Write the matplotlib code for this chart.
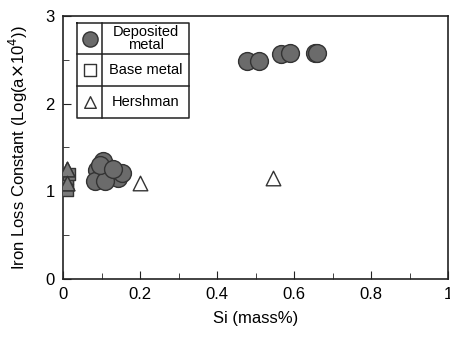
import matplotlib
matplotlib.use("Agg")
import matplotlib.pyplot as plt
from matplotlib.ticker import MultipleLocator

plt.rcParams['font.family'] = ['Liberation Sans', 'DejaVu Sans']

# Deposited metal (filled circles)
dep_x = [0.477, 0.51, 0.567, 0.59, 0.653, 0.66,
         0.104, 0.088, 0.083, 0.122, 0.142, 0.153, 0.109, 0.095, 0.13]
dep_y = [2.48, 2.48, 2.57, 2.58, 2.58, 2.58,
         1.34, 1.24, 1.12, 1.19, 1.15, 1.21, 1.12, 1.30, 1.25]
# Base metal (open squares)
base_x = [0.01, 0.01, 0.015, 0.01]
base_y = [1.08, 1.15, 1.20, 1.02]
# Hershman (open triangles)
hers_x = [0.01, 0.01, 0.20, 0.544]
hers_y = [1.25, 1.10, 1.10, 1.15]

legend_labels = ["Deposited\nmetal", "Base metal", "Hershman"]

fig = plt.figure(figsize=(4.5, 3.37), dpi=100)
ax = fig.add_axes([0.14, 0.172, 0.856, 0.781])

c_dep = '#6b6b6b'
ax.scatter(dep_x, dep_y, s=165, marker='o', facecolor=c_dep, edgecolor='#333333',
           linewidth=1.0, zorder=3)
ax.scatter(base_x, base_y, s=70, marker='s', facecolor='#7a7a7a', edgecolor='#333333',
           linewidth=1.0, zorder=4)
ax.scatter(hers_x, hers_y, s=110, marker='^', facecolor='white', edgecolor='#333333',
           linewidth=1.0, zorder=5)
# triangles at x~0 appear filled gray due to overlap
ax.scatter(hers_x[:2], hers_y[:2], s=110, marker='^', facecolor='#7a7a7a',
           edgecolor='#333333', linewidth=1.0, zorder=5)

ax.set_xlim(0, 1)
ax.set_ylim(0, 3)
ax.xaxis.set_minor_locator(MultipleLocator(0.1))
ax.yaxis.set_minor_locator(MultipleLocator(0.5))
ax.set_xticks([0, 0.2, 0.4, 0.6, 0.8, 1.0])
ax.set_xticklabels(['0', '0.2', '0.4', '0.6', '0.8', '1'])
ax.set_yticks([0, 1, 2, 3])
ax.set_yticklabels(['0', '1', '2', '3'])
ax.tick_params(which='both', direction='in', top=False, right=False,
               labelsize=12, color='#222222', pad=6)
ax.tick_params(which='major', length=6)
ax.tick_params(which='minor', length=4)
for sp in ax.spines.values():
    sp.set_color('#222222')
    sp.set_linewidth(1.2)

ax.set_xlabel('Si (mass%)', fontsize=12, labelpad=6)
ax.set_ylabel(r'Iron Loss Constant (Log(a$\times$10$^4$))', fontsize=12, labelpad=11)

# table-like legend box (axes fraction coords)
tr = ax.transAxes
x0, x1, xs = 0.037, 0.328, 0.102
ys = [0.972, 0.855, 0.733, 0.61]
lk = dict(color='#222222', lw=1.1, transform=tr, clip_on=False, zorder=6)
ax.plot([x0, x1, x1, x0, x0], [ys[0], ys[0], ys[3], ys[3], ys[0]], **lk)
ax.plot([xs, xs], [ys[0], ys[3]], **lk)
for yy in ys[1:3]:
    ax.plot([x0, x1], [yy, yy], **lk)
mk_x = (x0 + xs) / 2
txt_x = (xs + x1) / 2
centers = [(ys[i] + ys[i + 1]) / 2 for i in range(3)]
ax.scatter([mk_x], [centers[0]], s=120, marker='o', facecolor=c_dep,
           edgecolor='#333333', transform=tr, zorder=7, clip_on=False)
ax.scatter([mk_x], [centers[1]], s=80, marker='s', facecolor='white',
           edgecolor='#333333', transform=tr, zorder=7, clip_on=False)
ax.scatter([mk_x], [centers[2]], s=70, marker='^', facecolor='white',
           edgecolor='#333333', transform=tr, zorder=7, clip_on=False)
for lab, cy in zip(legend_labels, centers):
    ax.text(txt_x, cy, lab, transform=tr, ha='center', va='center',
            fontsize=10.5, linespacing=0.95, zorder=7)

fig.savefig('out.png', dpi=100)
